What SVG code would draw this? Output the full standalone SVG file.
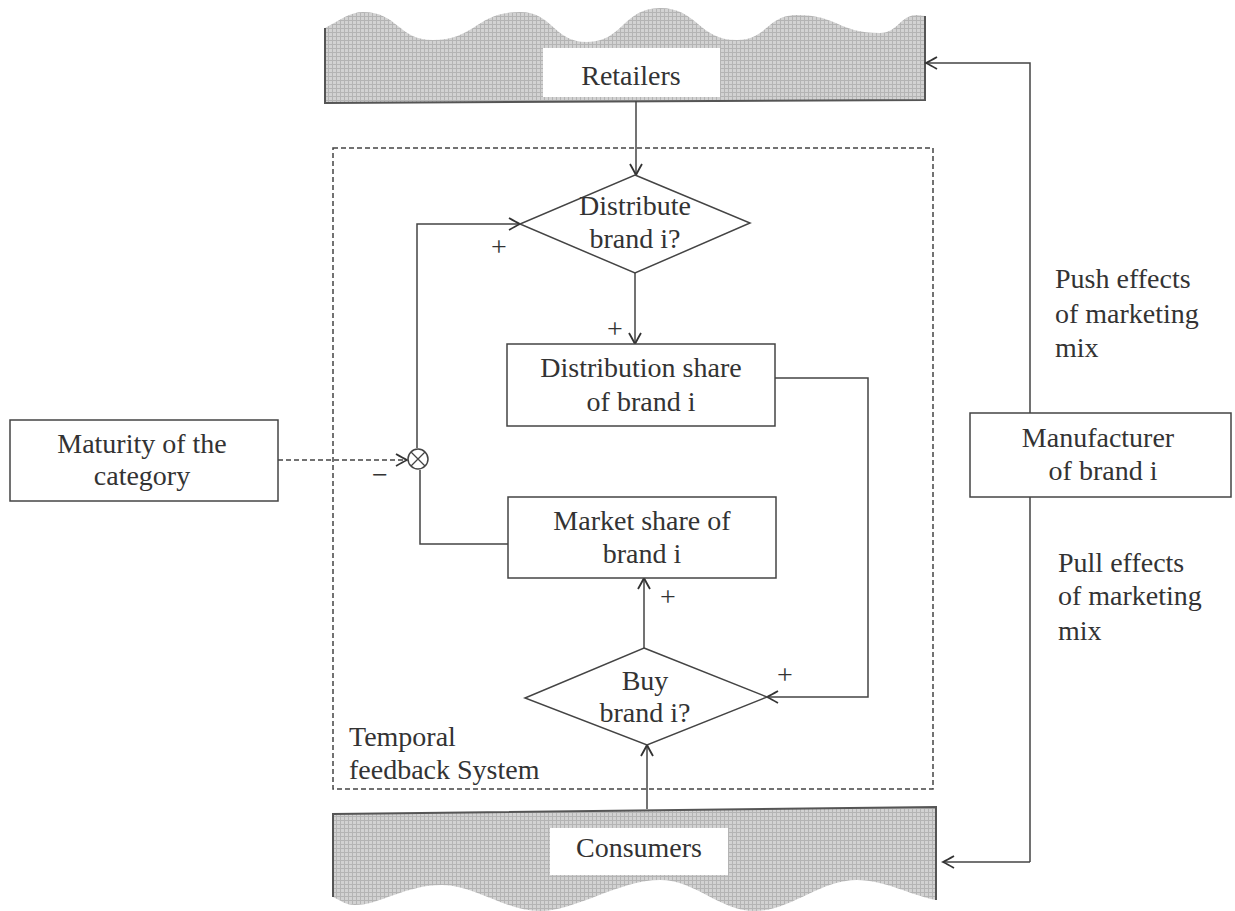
<svg xmlns="http://www.w3.org/2000/svg" width="1235" height="911" viewBox="0 0 1235 911">
<style>
  .t { font-family: "Liberation Serif", "Times New Roman", serif; font-size: 28px; fill: #333; }
  .c { text-anchor: middle; }
  .box { fill: #fff; stroke: #444; stroke-width: 1.5; }
  .ln { fill: none; stroke: #444; stroke-width: 1.5; }
  .dash { fill: none; stroke: #444; stroke-width: 1.5; stroke-dasharray: 5 3; }
  .edge { fill: none; stroke: #555; stroke-width: 2; }
  .band { fill: url(#hatch); stroke: none; }
</style>
<defs>
  <pattern id="hatch" width="4" height="4" patternUnits="userSpaceOnUse">
    <rect width="4" height="4" fill="#d2d2d2"/>
    <path d="M0,0.5 H4 M0.5,0 V4" stroke="#b4b4b4" stroke-width="1"/>
  </pattern>
  <marker id="arr" viewBox="-12 -7 14 14" refX="0" refY="0" markerWidth="14" markerHeight="14" markerUnits="userSpaceOnUse" orient="auto">
    <path d="M-11,-6 Q-4,-2 0,0 Q-4,2 -11,6" fill="none" stroke="#333" stroke-width="1.8"/>
  </marker>
</defs>
<rect width="1235" height="911" fill="#fff"/>

<g id="retailers">
  <path class="band" d="M325,103 L325,28 C340,20 350,12 363,12 C398,12 398,40 433,40 C476,40 476,12 520,12 C553,12 553,42 587,42 C623,42 623,8 660,8 C698,8 698,40 737,40 C767,40 767,15 797,15 C838,15 838,33 880,33 C898,33 900,15 917,15 L925,16 L925,100 Z"/>
  <path class="edge" d="M325,28 L325,103 L925,100 L925,16"/>
  <rect x="543" y="48" width="177" height="49" fill="#fff"/>
  <text class="t c" x="631" y="85">Retailers</text>
</g>

<g id="consumers">
  <path class="band" d="M333,814 L936,807 L936,900 C910,895 885,880 857,880 C820,880 790,911 755,911 C720,911 695,880 660,880 C620,880 575,911 540,911 C505,911 475,885 442,885 C405,885 380,905 355,905 C345,905 340,900 333,897 Z"/>
  <path class="edge" d="M333,897 L333,814 L936,807 L936,900"/>
  <rect x="550" y="828" width="178" height="47" fill="#fff"/>
  <text class="t c" x="639" y="857">Consumers</text>
</g>

<g id="feedback-system">
  <rect class="dash" x="333" y="148" width="600" height="641"/>
  <text class="t" x="349" y="746">Temporal</text>
  <text class="t" x="349" y="779">feedback System</text>
</g>

<g id="connectors">
  <line class="ln" x1="636" y1="101" x2="636" y2="175" marker-end="url(#arr)"/>
  <line class="ln" x1="635" y1="273" x2="635" y2="344" marker-end="url(#arr)"/>
  <polyline class="ln" points="775,378 868,378 868,697 767,697" marker-end="url(#arr)"/>
  <line class="ln" x1="644" y1="648" x2="644" y2="578" marker-end="url(#arr)"/>
  <line class="ln" x1="647" y1="809" x2="647" y2="745" marker-end="url(#arr)"/>
  <polyline class="ln" points="508,544 420,544 420,470"/>
  <polyline class="ln" points="417,448 417,224 520,224" marker-end="url(#arr)"/>
  <line class="dash" x1="278" y1="460" x2="407" y2="460" marker-end="url(#arr)"/>
  <polyline class="ln" points="1030,862 1030,63 926,63" marker-end="url(#arr)"/>
  <line class="ln" x1="1030" y1="862" x2="943" y2="862" marker-end="url(#arr)"/>
  <text class="t c" x="615" y="338">+</text>
  <text class="t c" x="499" y="256">+</text>
  <text class="t c" x="668" y="606">+</text>
  <text class="t c" x="785" y="684">+</text>
  <text class="t c" x="380" y="484">−</text>
</g>

<g id="junction">
  <circle cx="418" cy="459" r="10" fill="#fff" stroke="#444" stroke-width="1.5"/>
  <path d="M411,452 L425,466 M425,452 L411,466" stroke="#444" stroke-width="1.3"/>
</g>

<g id="distribute">
  <polygon class="box" points="635,175 750,223 635,273 520,224"/>
  <text class="t c" x="635" y="215">Distribute</text>
  <text class="t c" x="635" y="248">brand i?</text>
</g>

<g id="distribution-share">
  <rect class="box" x="507" y="344" width="268" height="82"/>
  <text class="t c" x="641" y="377">Distribution share</text>
  <text class="t c" x="641" y="411">of brand i</text>
</g>

<g id="market-share">
  <rect class="box" x="508" y="497" width="268" height="81"/>
  <text class="t c" x="642" y="530">Market share of</text>
  <text class="t c" x="642" y="563">brand i</text>
</g>

<g id="buy">
  <polygon class="box" points="644,648 767,697 647,745 525,698"/>
  <text class="t c" x="645" y="690">Buy</text>
  <text class="t c" x="645" y="722">brand i?</text>
</g>

<g id="maturity">
  <rect class="box" x="10" y="420" width="268" height="81"/>
  <text class="t c" x="142" y="453">Maturity of the</text>
  <text class="t c" x="142" y="485">category</text>
</g>

<g id="manufacturer">
  <rect class="box" x="970" y="413" width="261" height="84"/>
  <text class="t c" x="1098" y="447">Manufacturer</text>
  <text class="t c" x="1103" y="480">of brand i</text>
</g>

<g id="effects-labels">
  <text class="t" x="1055" y="288">Push effects</text>
  <text class="t" x="1055" y="323">of marketing</text>
  <text class="t" x="1055" y="357">mix</text>
  <text class="t" x="1058" y="572">Pull effects</text>
  <text class="t" x="1058" y="605">of marketing</text>
  <text class="t" x="1058" y="640">mix</text>
</g>
</svg>
